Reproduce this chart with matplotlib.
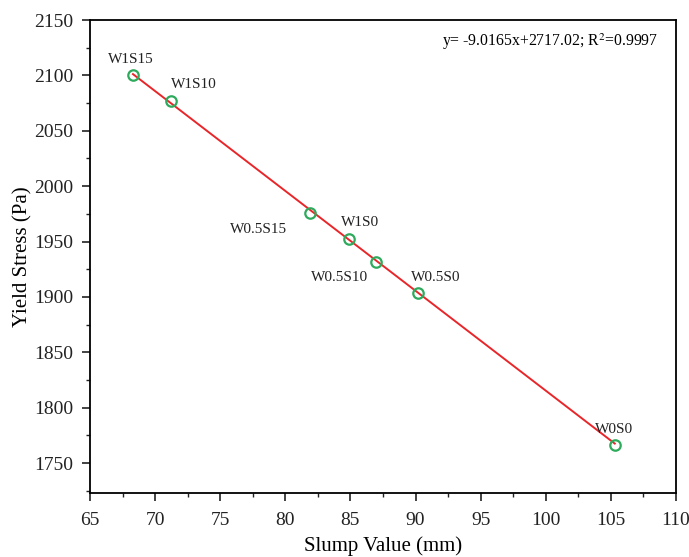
import numpy as np
import matplotlib.pyplot as plt
from matplotlib.ticker import MultipleLocator

plt.rcParams['font.family'] = ['Liberation Serif', 'DejaVu Serif']
plt.rcParams['mathtext.fontset'] = 'stix'

# slump vs yield stress for each mix
mixes = ['W1S15', 'W1S10', 'W0.5S15', 'W1S0', 'W0.5S10', 'W0.5S0', 'W0S0']
slump = [68.3, 71.2, 81.9, 84.9, 87.0, 90.2, 105.3]
stress = [2100.0, 2077.0, 1975.5, 1952.5, 1931.5, 1903.5, 1766.0]

# label offsets in points
offsets = [(-18, 9), (0, 9), (-58, -14), (-6, 9), (-47, -14), (-5, 9), (-14, 9)]

slope, intercept = -9.0165, 2717.02

fig = plt.figure(figsize=(6.89, 5.57), dpi=100)
ax = fig.add_axes([0.1306, 0.115, 0.8505, 0.849])

xf = np.array([min(slump), max(slump)])
ax.plot(xf, slope * xf + intercept, color='#e8262a', lw=1.4, zorder=2)
ax.plot(slump, stress, 'o', mfc='none', mec='#2eaa5c', mew=1.6, ms=7.5, zorder=3)

for name, x, y, off in zip(mixes, slump, stress, offsets):
    ax.annotate(name, (x, y), xytext=off, textcoords='offset points',
                fontsize=11, color='#222222')

ax.text(0.97, 0.955, r'y= -9.0165x+2717.02; R$^2$=0.9997', transform=ax.transAxes,
        ha='right', va='center', fontsize=11.3)

ax.set_xlim(65, 110)
ax.set_ylim(1723, 2150)
ax.xaxis.set_major_locator(MultipleLocator(5))
ax.xaxis.set_minor_locator(MultipleLocator(2.5))
ax.yaxis.set_major_locator(MultipleLocator(50))
ax.yaxis.set_minor_locator(MultipleLocator(25))
ax.tick_params(which='both', direction='out', top=False, right=False, labelsize=14, colors='#222222')
ax.tick_params(which='major', length=6, width=1.2)
ax.tick_params(which='minor', length=3, width=1.0)
ax.tick_params(axis='x', which='major', pad=8)
ax.tick_params(axis='y', which='major', pad=6)
for s in ax.spines.values():
    s.set_linewidth(1.3)

ax.set_xlabel('Slump Value (mm)', fontsize=15, labelpad=5)
ax.set_ylabel('Yield Stress (Pa)', fontsize=15, labelpad=1)

plt.savefig('out.png', dpi=100)
